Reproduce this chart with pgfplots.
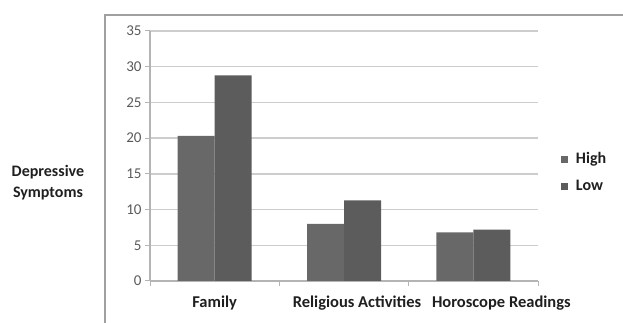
\documentclass[border=0pt]{standalone}
\usepackage{pgfplots}
\pgfplotsset{compat=1.18}
\usepackage{fontspec}
\setmainfont{Carlito}
\definecolor{highc}{HTML}{686868}
\definecolor{lowc}{HTML}{5C5C5C}
\definecolor{gridc}{HTML}{CDCDCD}
\definecolor{axc}{HTML}{B4B4B4}
\definecolor{framec}{HTML}{A0A0A0}
\definecolor{tickc}{HTML}{5A5A5A}
\begin{document}
\begin{tikzpicture}[x=1pt,y=1pt]
\useasboundingbox (0,0) rectangle (623,323);
\draw[framec, line width=1.6pt] (105,-10) -- (105,308) -- (640,308);
\begin{axis}[
  at={(150pt,42pt)}, anchor=south west,
  scale only axis, width=388pt, height=250pt,
  xmin=-0.5, xmax=2.5, ymin=0, ymax=35,
  ytick={0,5,...,35},
  xtick={0,1,2},
  xticklabels={Family,{\hspace*{26pt}Religious Activities},{\hspace*{56pt}\raisebox{2.5pt}{Horoscope Readings}}},
  minor xtick={-0.5,0.5,1.5,2.5},
  major x tick style={draw=none},
  minor x tick style={axc, line width=1pt},
  y tick style={axc, line width=1pt},
  minor tick length=5pt,
  major tick length=5pt,
  tick align=outside, tick pos=left,
  axis x line*=bottom, axis y line*=left,
  axis line style={axc, line width=1.2pt, -},
  ymajorgrids, grid style={gridc, line width=1.3pt},
  ybar=0pt, bar width=37pt,
  yticklabel style={font=\fontsize{15}{16}\selectfont, text=tickc},
  xticklabel style={font=\fontsize{16.5}{18}\bfseries, text=black!88, yshift=-6pt},
  /pgf/number format/assume math mode=true,
  ylabel={Depressive\\Symptoms},
  ylabel style={rotate=-90, align=center, font=\fontsize{16}{21}\bfseries, text=black!88,
    at={(axis description cs:-0.263,0.392)}, anchor=center},
  legend style={at={(axis description cs:1.051,0.53)}, anchor=north west, draw=none, fill=none,
    font=\fontsize{16}{18}\bfseries, text=black!88, row sep=11pt},
  legend image code/.code={\fill[#1] (0pt,-3.5pt) rectangle (7pt,3.5pt); \path (13pt,0);},
  legend cell align=left,
]
\addplot[draw=none, fill=highc] coordinates {(0,20.3) (1,8.0) (2,6.8)};
\addplot[draw=none, fill=lowc] coordinates {(0,28.8) (1,11.3) (2,7.2)};
\legend{High,Low}
\end{axis}
\end{tikzpicture}
\end{document}
